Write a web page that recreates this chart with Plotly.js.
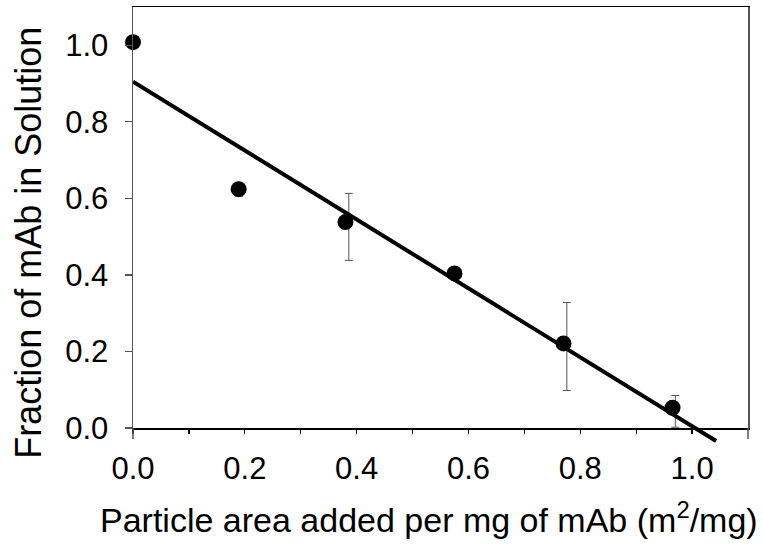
<!DOCTYPE html>
<html>
<head>
<meta charset="utf-8">
<script src="https://cdn.plot.ly/plotly-3.0.1.min.js"></script>
<style>html,body{margin:0;padding:0;background:#fff;}#chart{width:763px;height:549px;}</style>
</head>
<body>
<div id="chart"></div>
<script>
// Measured points
const areaX = [0.000, 0.189, 0.380, 0.575, 0.770, 0.965];
const fracY = [1.008, 0.624, 0.538, 0.404, 0.221, 0.053];
// Error bars (drawn slightly offset, as in the source)
const errX = [0.004, 0.190, 0.386, 0.576, 0.776, 0.970];
const errY = [1.008, 0.624, 0.538, 0.404, 0.221, 0.053];
const errPlus = [0.004, 0.004, 0.075, 0.004, 0.107, 0.032];
const errMinus = [0.004, 0.018, 0.100, 0.004, 0.123, 0.051];
// Linear fit line end points
const fitX = [0.0, 1.043];
const fitY = [0.905, -0.034];
// Tick labels
const xTickVals = [0, 0.2, 0.4, 0.6, 0.8, 1.0];
const xTickText = ['0.0', '0.2', '0.4', '0.6', '0.8', '1.0'];
const yTickVals = [0, 0.2, 0.4, 0.6, 0.8, 1.0];
const yTickText = ['0.0', '0.2', '0.4', '0.6', '0.8', '1.0'];

const FONT = '"Liberation Sans", Arial, Helvetica, sans-serif';
const yRange = [0, 1.1];
// main y domain bottom fraction; a second, taller (hidden) y axis with the same scale
// lets the fit line run a little below the x axis, as in the source
const yDomBottom = 21 / 442;
const y2Bottom = -yRange[1] * yDomBottom / (1 - yDomBottom);

const traces = [
  {
    x: fitX, y: fitY, type: 'scatter', mode: 'lines', xaxis: 'x', yaxis: 'y2',
    line: {color: '#000', width: 4}, hoverinfo: 'skip', showlegend: false
  },
  {
    x: errX, y: errY, type: 'scatter', mode: 'markers', cliponaxis: false,
    marker: {size: 1, color: 'rgba(0,0,0,0)'},
    error_y: {type: 'data', symmetric: false, array: errPlus, arrayminus: errMinus,
              color: '#555', thickness: 1, width: 4},
    showlegend: false, hoverinfo: 'skip'
  },
  {
    x: areaX, y: fracY, type: 'scatter', mode: 'markers', cliponaxis: false,
    marker: {size: 16, color: '#000'}, showlegend: false
  }
];

const layout = {
  width: 763, height: 549,
  margin: {l: 133, r: 15, t: 7, b: 100, pad: 0},
  paper_bgcolor: '#fff', plot_bgcolor: 'rgba(0,0,0,0)',
  font: {family: FONT, color: '#000', size: 31},
  showlegend: false,
  xaxis: {
    range: [0, 1.1], tickvals: xTickVals, ticktext: xTickText,
    ticks: 'outside', ticklen: 4, tickwidth: 1.2, tickcolor: '#000',
    minor: {tickvals: [0.1, 0.3, 0.5, 0.7, 0.9], ticks: 'outside', ticklen: 4, tickwidth: 1.2, tickcolor: '#000'},
    showline: true, linecolor: '#000', linewidth: 1.5, mirror: true,
    showgrid: false, zeroline: false, anchor: 'y',
    tickfont: {family: FONT, size: 31, color: '#000'}, ticklabelstandoff: 8
  },
  yaxis: {
    domain: [yDomBottom, 1], range: yRange, tickvals: yTickVals, ticktext: yTickText,
    ticks: 'outside', ticklen: 7, tickwidth: 1.2, tickcolor: '#555',
    showline: true, linecolor: '#555', linewidth: 1.5, mirror: true,
    showgrid: false, zeroline: false, anchor: 'x',
    tickfont: {family: FONT, size: 31, color: '#000'}, ticklabelstandoff: 10
  },
  yaxis2: {
    domain: [0, 1], range: [y2Bottom, yRange[1]], anchor: 'x', visible: false,
    showgrid: false, zeroline: false, showline: false, showticklabels: false, ticks: ''
  },
  shapes: [
    {type: 'line', xref: 'x domain', yref: 'y domain', x0: 0, x1: 0, y0: 0, y1: -11/421, line: {color: '#555', width: 1.5}},
    {type: 'line', xref: 'x domain', yref: 'y domain', x0: 1, x1: 1, y0: 0, y1: -11/421, line: {color: '#555', width: 1.5}}
  ],
  annotations: [
    {text: 'Particle area added per mg of mAb (m<sup>2</sup>/mg)', xref: 'paper', yref: 'paper',
     x: 0.481, y: -0.156, xanchor: 'center', yanchor: 'middle', showarrow: false,
     font: {family: FONT, size: 34, color: '#000'}},
    {text: 'Fraction of mAb in Solution', xref: 'paper', yref: 'paper', textangle: -90,
     x: -0.171, y: 0.466, xanchor: 'center', yanchor: 'middle', showarrow: false,
     font: {family: FONT, size: 36, color: '#000'}}
  ]
};

Plotly.newPlot('chart', traces, layout, {staticPlot: true, displayModeBar: false});
</script>
</body>
</html>
